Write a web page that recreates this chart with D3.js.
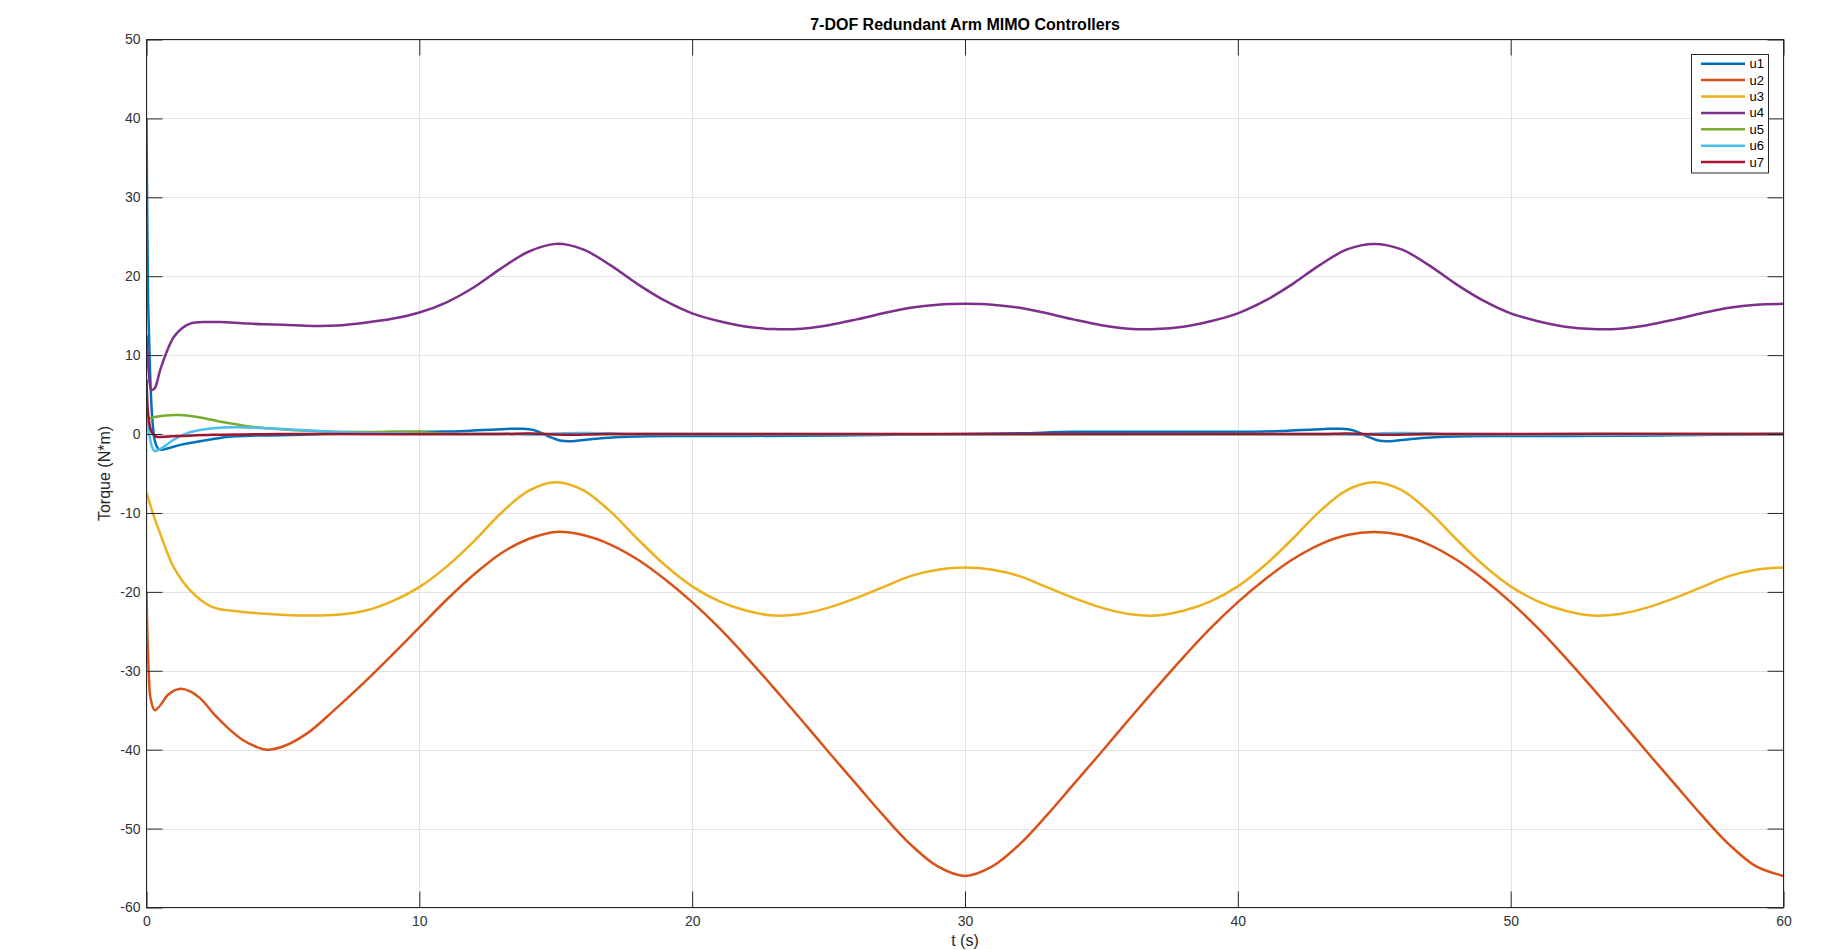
<!DOCTYPE html>
<html>
<head>
<meta charset="utf-8">
<script src="https://cdn.jsdelivr.net/npm/d3@7"></script>
<style>
  html, body { margin: 0; padding: 0; background: #fff; }
  svg { display: block; font-family: "Liberation Sans", Arial, Helvetica, sans-serif; }
</style>
</head>
<body>
<svg id="chart" width="1845" height="950"></svg>
<script>
// Controller torques u1..u7 as [t (s), torque (N*m)] samples
const u1 = [[0,40],[0.03,26.3],[0.06,16.6],[0.12,9],[0.2,2.6],[0.3,-0.8],[0.42,-1.8],[0.55,-2.0],[0.8,-1.8],[1.2,-1.4],[1.8,-1.0],[2.5,-0.6],[3,-0.35],[4,-0.2],[5,-0.15],[6,-0.05],[7,0.05],[8,0.15],[9,0.25],[10,0.3],[11,0.32],[11.7,0.4],[12.6,0.55],[13.2,0.65],[13.8,0.67],[14.2,0.5],[14.5,0.1],[14.8,-0.4],[15.2,-0.85],[15.6,-0.9],[16,-0.75],[16.5,-0.6],[17.2,-0.42],[18,-0.3],[20,-0.25],[24,-0.22],[26,-0.15],[28,-0.05],[30,0],[32,0.1],[34,0.28],[38,0.3],[41,0.32],[41.7,0.4],[42.6,0.55],[43.2,0.65],[43.8,0.67],[44.2,0.5],[44.5,0.1],[44.8,-0.4],[45.2,-0.85],[45.6,-0.9],[46,-0.75],[46.5,-0.6],[47.2,-0.42],[48,-0.3],[50,-0.25],[54,-0.22],[56,-0.15],[58,-0.05],[60,0]];

const u2 = [[0,-20],[0.03,-25],[0.08,-30],[0.15,-33.5],[0.3,-35],[0.5,-34.4],[0.8,-33],[1.2,-32.3],[1.6,-32.6],[2,-33.6],[2.5,-35.6],[3,-37.3],[3.5,-38.7],[4,-39.6],[4.4,-40],[5,-39.6],[5.9,-37.9],[7,-34.6],[8,-31.4],[9,-28],[10,-24.5],[11,-21],[12,-17.8],[13,-15.1],[14,-13.3],[15,-12.4],[16,-12.8],[17,-14],[18,-15.9],[19,-18.4],[20,-21.3],[21,-24.6],[22,-28.3],[23,-32.2],[24,-36.2],[25,-40.3],[26,-44.3],[27,-48.3],[28,-52],[29,-54.8],[30,-56],[31,-54.8],[32,-52],[33,-48.3],[34,-44.3],[35,-40.3],[36,-36.2],[37,-32.2],[38,-28.3],[39,-24.6],[40,-21.3],[41,-18.4],[42,-15.9],[43,-14],[44,-12.8],[45,-12.4],[46,-12.8],[47,-14],[48,-15.9],[49,-18.4],[50,-21.3],[51,-24.6],[52,-28.3],[53,-32.2],[54,-36.2],[55,-40.3],[56,-44.3],[57,-48.3],[58,-52],[59,-54.8],[60,-56]];

const u3 = [[0,-7.4],[0.25,-10.2],[0.5,-12.6],[1,-16.9],[1.6,-19.8],[2.4,-21.9],[3.4,-22.5],[4.5,-22.8],[5.9,-23],[7,-22.9],[8,-22.4],[9,-21.2],[10,-19.4],[11,-16.8],[12,-13.6],[13,-10],[14,-7.2],[15,-6.1],[16,-7.1],[17,-9.8],[18,-13.3],[19,-16.6],[20,-19.3],[21,-21.2],[22,-22.4],[23,-23],[24,-22.8],[25,-22],[26,-20.8],[27,-19.4],[28,-18],[29,-17.2],[30,-16.9],[31,-17.2],[32,-18],[33,-19.4],[34,-20.8],[35,-22],[36,-22.8],[37,-23],[38,-22.4],[39,-21.2],[40,-19.3],[41,-16.6],[42,-13.3],[43,-9.8],[44,-7.1],[45,-6.1],[46,-7.1],[47,-9.8],[48,-13.3],[49,-16.6],[50,-19.3],[51,-21.2],[52,-22.4],[53,-23],[54,-22.8],[55,-22],[56,-20.8],[57,-19.4],[58,-18],[59,-17.2],[60,-16.9]];

const u4 = [[0,12.5],[0.08,8],[0.18,5.6],[0.3,5.8],[0.5,8.1],[0.75,10.5],[1,12.3],[1.3,13.4],[1.6,14],[2.2,14.2],[2.7,14.2],[3.5,14.05],[4.3,13.9],[5,13.85],[6.1,13.7],[7,13.75],[8,14.1],[9,14.6],[10,15.4],[11,16.7],[12,18.6],[13,21],[14,23.1],[15,24.1],[16,23.4],[17,21.4],[18,19],[19,16.9],[20,15.3],[21,14.3],[22,13.6],[23,13.3],[24,13.35],[25,13.8],[26,14.5],[27,15.3],[28,16],[29,16.4],[30,16.5],[31,16.4],[32,16],[33,15.3],[34,14.5],[35,13.8],[36,13.35],[37,13.3],[38,13.6],[39,14.3],[40,15.3],[41,16.9],[42,19],[43,21.4],[44,23.4],[45,24.1],[46,23.4],[47,21.4],[48,19],[49,16.9],[50,15.3],[51,14.3],[52,13.6],[53,13.3],[54,13.35],[55,13.8],[56,14.5],[57,15.3],[58,16],[59,16.4],[60,16.5]];

const u5 = [[0,1.2],[0.06,1.9],[0.3,2.15],[0.7,2.35],[1.2,2.4],[1.8,2.2],[2.4,1.8],[3,1.4],[3.7,1.0],[4.9,0.6],[6.1,0.38],[7.9,0.25],[10,0.28],[10.4,0.15],[11,0.05],[12,0],[60,0]];

const u6 = [[0,2.4],[0.1,0],[0.2,-1.6],[0.3,-2.15],[0.5,-1.9],[0.98,-0.76],[1.4,0],[1.83,0.42],[2.7,0.8],[3.4,0.85],[4.5,0.72],[6.1,0.42],[7.9,0.15],[10,0.02],[13.5,0],[14.2,-0.08],[14.9,0.05],[15.8,0.12],[16.9,0.1],[17.5,0],[43.5,0],[44.2,-0.08],[44.9,0.05],[45.8,0.12],[46.9,0.1],[47.5,0],[60,0]];

const u7 = [[0,6.9],[0.06,2.6],[0.15,0.6],[0.24,0],[0.37,-0.35],[0.8,-0.3],[1.22,-0.25],[2.4,-0.1],[4.3,-0.02],[6,0],[13,0],[14,0.08],[14.6,0],[15.5,-0.08],[17,0],[43,0],[44,0.08],[44.6,0],[45.5,-0.08],[47,0],[60,0]];

const seriesNames = ["u1", "u2", "u3", "u4", "u5", "u6", "u7"];
const seriesData = [u1, u2, u3, u4, u5, u6, u7];
const seriesColors = ["#0072BD", "#D95319", "#EDB120", "#7E2F8E", "#77AC30", "#4DBEEE", "#A2142F"];

const xTicks = [0, 10, 20, 30, 40, 50, 60];
const yTicks = [-60, -50, -40, -30, -20, -10, 0, 10, 20, 30, 40, 50];

const titleText = "7-DOF Redundant Arm MIMO Controllers";
const xLabel = "t (s)";
const yLabel = "Torque (N*m)";

// ---- layout ----
const svg = d3.select("#chart");
const plot = { left: 146.5, right: 1783.5, top: 39.5, bottom: 907.5 };
const axisColor = "#262626";
const tickLen = 16;
const plainNumber = d => String(d);   // ASCII hyphen for negatives

const x = d3.scaleLinear().domain([0, 60]).range([plot.left, plot.right]);
const y = d3.scaleLinear().domain([-60, 50]).range([plot.bottom, plot.top]);

svg.append("defs").append("clipPath").attr("id", "plotClip")
  .append("rect")
  .attr("x", plot.left).attr("y", plot.top)
  .attr("width", plot.right - plot.left).attr("height", plot.bottom - plot.top);

// grid
const grid = svg.append("g").attr("stroke", "#e3e3e3").attr("stroke-width", 1);
grid.selectAll("line.gx").data(xTicks).join("line")
  .attr("x1", d => Math.round(x(d)) + 0.5).attr("x2", d => Math.round(x(d)) + 0.5)
  .attr("y1", plot.top).attr("y2", plot.bottom);
grid.selectAll("line.gy").data(yTicks).join("line")
  .attr("y1", d => Math.round(y(d)) + 0.5).attr("y2", d => Math.round(y(d)) + 0.5)
  .attr("x1", plot.left).attr("x2", plot.right);

// series
const line = d3.line()
  .x(d => x(d[0]))
  .y(d => y(d[1]))
  .curve(d3.curveCatmullRom.alpha(0.5));

const lines = svg.append("g").attr("clip-path", "url(#plotClip)");
seriesData.forEach((data, i) => {
  lines.append("path")
    .datum(data)
    .attr("fill", "none")
    .attr("stroke", seriesColors[i])
    .attr("stroke-width", 2.5)
    .attr("stroke-linejoin", "round")
    .attr("d", line);
});

// axes (ticks point inward, on all four sides)
function styleAxis(g) {
  g.select(".domain").remove();
  g.selectAll(".tick line").attr("stroke", axisColor);
  g.selectAll(".tick text").attr("fill", "#333").attr("font-size", 14)
    .attr("font-family", "'Liberation Sans', Arial, Helvetica, sans-serif");
}

svg.append("g").attr("transform", `translate(0,${plot.bottom})`)
  .call(d3.axisBottom(x).tickValues(xTicks).tickSize(-tickLen).tickPadding(9).tickFormat(plainNumber))
  .call(styleAxis);
svg.append("g").attr("transform", `translate(0,${plot.top})`)
  .call(d3.axisTop(x).tickValues(xTicks).tickSize(-tickLen).tickFormat(""))
  .call(styleAxis);
svg.append("g").attr("transform", `translate(${plot.left},0)`)
  .call(d3.axisLeft(y).tickValues(yTicks).tickSize(-tickLen).tickPadding(6).tickFormat(plainNumber))
  .call(styleAxis);
svg.append("g").attr("transform", `translate(${plot.right},0)`)
  .call(d3.axisRight(y).tickValues(yTicks).tickSize(-tickLen).tickFormat(""))
  .call(styleAxis);

// axes box
svg.append("rect")
  .attr("x", plot.left).attr("y", plot.top)
  .attr("width", plot.right - plot.left).attr("height", plot.bottom - plot.top)
  .attr("fill", "none").attr("stroke", axisColor).attr("stroke-width", 1);

// title and labels
svg.append("text")
  .attr("x", (plot.left + plot.right) / 2).attr("y", 29.5)
  .attr("text-anchor", "middle").attr("font-size", 16).attr("font-weight", "bold")
  .attr("fill", "#000").text(titleText);

svg.append("text")
  .attr("x", (plot.left + plot.right) / 2).attr("y", 946)
  .attr("text-anchor", "middle").attr("font-size", 16).attr("fill", "#262626")
  .text(xLabel);

svg.append("text")
  .attr("transform", `translate(110,${(plot.top + plot.bottom) / 2}) rotate(-90)`)
  .attr("text-anchor", "middle").attr("font-size", 16).attr("fill", "#262626")
  .text(yLabel);

// legend
const legend = { x: 1691.5, y: 54.5, w: 77, h: 118.5, rowY0: 63.7, rowStep: 16.4 };
const lg = svg.append("g");
lg.append("rect")
  .attr("x", legend.x).attr("y", legend.y).attr("width", legend.w).attr("height", legend.h)
  .attr("fill", "#fff").attr("stroke", axisColor).attr("stroke-width", 1);
seriesNames.forEach((name, i) => {
  const ry = legend.rowY0 + i * legend.rowStep;
  lg.append("line")
    .attr("x1", 1701).attr("x2", 1745).attr("y1", ry).attr("y2", ry)
    .attr("stroke", seriesColors[i]).attr("stroke-width", 2.5);
  lg.append("text")
    .attr("x", 1749.5).attr("y", ry).attr("dy", "0.35em")
    .attr("font-size", 13).attr("fill", "#000").text(name);
});
</script>
</body>
</html>
